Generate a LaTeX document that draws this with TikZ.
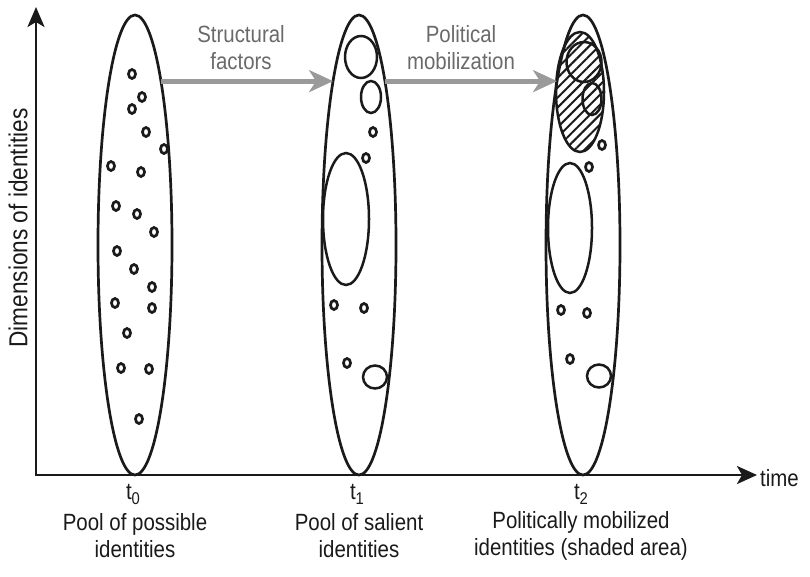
\documentclass[tikz,border=0pt]{standalone}
\usepackage{fontspec}
\setmainfont{Liberation Sans}
\newfontfamily\condfont{Liberation Sans}[FakeStretch=0.87]
\usetikzlibrary{shapes.geometric,arrows.meta,patterns.meta}
\definecolor{ink}{HTML}{1A1A1A}
\definecolor{flow}{HTML}{9A9A9A}
\definecolor{flowtext}{HTML}{6A6A6A}
\begin{document}
\begin{tikzpicture}[x=1pt,y=-1pt,
  big/.style={draw=ink, ellipse, minimum width=74pt, minimum height=460pt, inner sep=0pt, outer sep=0pt, line width=2.7pt},
  blob/.style={draw=ink, ellipse, inner sep=0pt, outer sep=0pt, line width=2.5pt},
  idot/.style={draw=ink, ellipse, minimum width=7pt, minimum height=9pt, inner sep=0pt, line width=2.7pt},
  hatch/.style={pattern={Lines[angle=45,distance=7pt,line width=2pt]}, pattern color=ink},
  flowarrow/.style={draw=flow, line width=5pt, -{Stealth[length=24pt,width=22pt,inset=7pt]}},
  axisline/.style={draw=ink, line width=2.6pt, line join=miter},
  lab/.style={align=center, font=\condfont\fontsize{23.5}{27}\selectfont, text=ink, inner sep=0pt},
  flowlab/.style={align=center, font=\condfont\fontsize{23.5}{27}\selectfont, text=flowtext, inner sep=0pt}
]
\useasboundingbox (0,0) rectangle (810,576);

% axes
\coordinate (O) at (36,475);
\coordinate (ytop) at (36,7);
\coordinate (xend) at (757,475);
\draw[axisline, {Stealth[length=20pt,width=17pt,inset=5pt]}-{Stealth[length=20pt,width=18pt,inset=5pt]}] (ytop) -- (O) -- (xend);
\node[lab, anchor=west] (time) at (760,478) {time};
\node[lab, rotate=90, font=\condfont\fontsize{26}{27}\selectfont] (ylab) at (18,228) {Dimensions of identities};

% big ellipses
\node[big] (e1) at (135,245) {};
\node[big] (e2) at (359,245) {};
\node[big] (e3) at (583,245) {};

% ellipse 1 dots
\foreach \p [count=\i] in {(132,74),(142,97),(132,109),(146,132),(164,149),(111,166),(141,172),(116,206),(137,214),(154,232),(117,251),(134,269),(152,287),(115,303),(152,308),(127,333),(121,368),(149,369),(139,419)}
  \node[idot] (a\i) at \p {};

% ellipse 2 contents
\node[blob, minimum width=32pt, minimum height=42pt] (b1) at (361,57) {};
\node[blob, minimum width=20pt, minimum height=32pt] (b2) at (371,97) {};
\node[blob, minimum width=46pt, minimum height=132pt] (b3) at (346,219) {};
\node[blob, minimum width=24pt, minimum height=23pt] (b4) at (375,377) {};
\foreach \p [count=\i] in {(373,132),(366,158),(334,305),(364,308),(347,363)}
  \node[idot] (bd\i) at \p {};

% ellipse 3 contents
\node[blob, hatch, minimum width=48pt, minimum height=120pt] (c0) at (580,92) {};
\node[blob, minimum width=35pt, minimum height=40pt] (c1) at (584,62) {};
\node[blob, minimum width=19pt, minimum height=32pt] (c2) at (592,99) {};
\node[blob, minimum width=44pt, minimum height=130pt] (c3) at (570,228) {};
\node[blob, minimum width=24pt, minimum height=23pt] (c4) at (599,376) {};
\foreach \p [count=\i] in {(602,145),(589,167),(561,310),(587,313),(570,359)}
  \node[idot] (cd\i) at \p {};

% flow arrows
\draw[flowarrow] (e1.81) -- (e2.99);
\draw[flowarrow] (e2.81) -- (e3.99);
\node[flowlab] (f1) at (241,48) {Structural\\factors};
\node[flowlab] (f2) at (461,48) {Political\\mobilization};

% bottom labels
\node[lab] (t0) at (133,494) {t\raisebox{-5pt}{\fontsize{17}{17}\selectfont 0}};
\node[lab] (t1) at (357,494) {t\raisebox{-5pt}{\fontsize{17}{17}\selectfont 1}};
\node[lab] (t2) at (581,494) {t\raisebox{-5pt}{\fontsize{17}{17}\selectfont 2}};
\node[lab] (l0) at (135,536) {Pool of possible\\identities};
\node[lab] (l1) at (359,536) {Pool of salient\\identities};
\node[lab] (l2) at (581,536) {Politically mobilized\\identities (shaded area)};
\end{tikzpicture}
\end{document}
